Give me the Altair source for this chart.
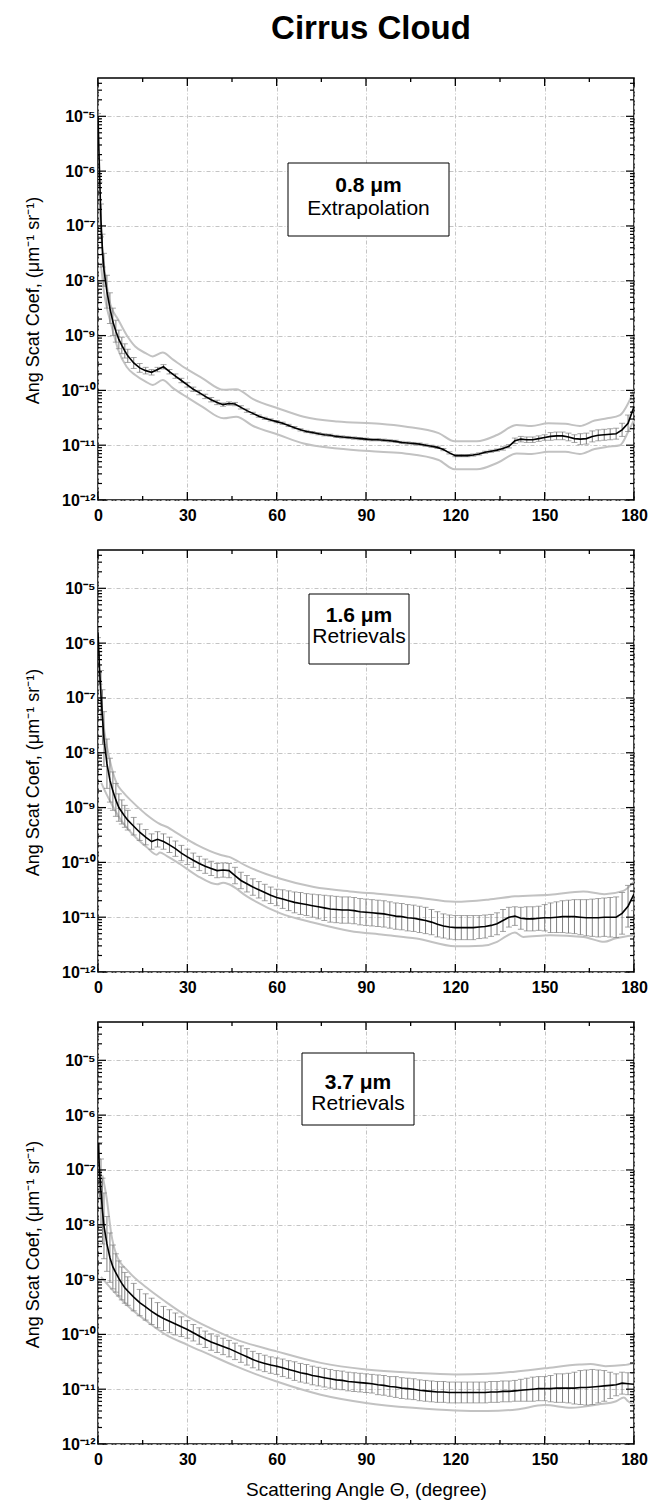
import altair as alt
import pandas as pd

# ---------------- data (log10 of angular scattering coefficient) ----------------
ANG = [0, 0.5, 1, 1.5, 2, 3, 4, 5, 6, 7, 8, 9, 10,
       12, 14, 16, 18, 20, 22, 24, 26, 28, 30,
       32, 34, 36, 38, 40, 42, 44, 46, 48, 50,
       52, 54, 56, 58, 60, 62, 64, 66, 68, 70,
       72, 74, 76, 78, 80, 82, 84, 86, 88, 90,
       92, 94, 96, 98, 100, 102, 104, 106, 108, 110,
       112, 114, 116, 118, 120, 122, 124, 126, 128, 130,
       132, 134, 136, 138, 140, 142, 144, 146, 148, 150,
       152, 154, 156, 158, 160, 162, 164, 166, 168, 170,
       172, 174, 176, 178, 180]

# Panel 1 : 0.8 um extrapolation
C1 = [-5.0, -6.0, -6.9, -7.45, -7.8, -8.2, -8.5, -8.75, -8.92, -9.07, -9.18, -9.28, -9.37,
      -9.5, -9.59, -9.64, -9.67, -9.62, -9.57, -9.66, -9.74, -9.82, -9.9,
      -9.98, -10.04, -10.11, -10.17, -10.22, -10.26, -10.24, -10.25, -10.31, -10.37,
      -10.42, -10.47, -10.51, -10.54, -10.57, -10.6, -10.64, -10.68, -10.72, -10.75,
      -10.77, -10.79, -10.81, -10.82, -10.84, -10.85, -10.86, -10.87, -10.88, -10.89,
      -10.9, -10.9, -10.91, -10.92, -10.93, -10.95, -10.96, -10.97, -10.98, -11.0,
      -11.02, -11.04, -11.08, -11.14, -11.19, -11.19, -11.19, -11.18, -11.16, -11.13,
      -11.11, -11.09, -11.06, -11.02, -10.92, -10.89, -10.9, -10.9, -10.88, -10.86,
      -10.84, -10.83, -10.83, -10.85, -10.88, -10.89, -10.88, -10.84, -10.82, -10.81,
      -10.8, -10.79, -10.72, -10.6, -10.3]
H1 = [0.05, 0.2, 0.3, 0.3, 0.3, 0.3, 0.28, 0.25, 0.2, 0.17, 0.15, 0.13, 0.12,
      0.1, 0.08, 0.06, 0.05, 0.04, 0.04, 0.04, 0.04, 0.04, 0.04,
      0.04, 0.04, 0.04, 0.04, 0.04, 0.03, 0.03, 0.03, 0.03, 0.03,
      0.02, 0.02, 0.02, 0.02, 0.02, 0.02, 0.02, 0.02, 0.02, 0.02,
      0.02, 0.02, 0.02, 0.02, 0.02, 0.02, 0.02, 0.02, 0.02, 0.02,
      0.02, 0.02, 0.02, 0.02, 0.02, 0.02, 0.02, 0.02, 0.02, 0.02,
      0.02, 0.02, 0.02, 0.02, 0.02, 0.02, 0.02, 0.02, 0.02, 0.02,
      0.02, 0.02, 0.03, 0.03, 0.05, 0.05, 0.05, 0.05, 0.05, 0.05,
      0.07, 0.07, 0.07, 0.07, 0.07, 0.1, 0.1, 0.1, 0.1, 0.1,
      0.1, 0.1, 0.12, 0.15, 0.1]
UP1_A = [0.5, 1, 2, 3, 4.2, 6.8, 9.6, 12.5, 16, 18.4, 21.7, 25.2, 29.5, 35.1, 42.2, 46.4,
         52.1, 60.6, 69.1, 80.4, 94.6, 103, 114.4, 119.8, 127.2, 134.2, 140.6, 145.6,
         151.2, 156.9, 161.8, 166.8, 171, 175.3, 178.1, 180]
UP1_V = [-6.6, -7.1, -7.7, -8.1, -8.44, -8.71, -8.99, -9.2, -9.32, -9.38, -9.31, -9.44,
         -9.6, -9.78, -9.99, -9.98, -10.16, -10.33, -10.48, -10.57, -10.61, -10.66,
         -10.78, -10.93, -10.93, -10.81, -10.63, -10.65, -10.6, -10.61, -10.65, -10.55,
         -10.51, -10.45, -10.23, -9.99]
LO1_A = [1, 2, 3, 4.2, 6.8, 9.6, 12.5, 16, 18.4, 21.7, 25.2, 29.5, 35.1, 42.2, 46.4,
         52.1, 60.6, 69.1, 80.4, 94.6, 103, 114.4, 119.8, 127.2, 134.2, 140.6, 145.6,
         151.2, 156.9, 161.8, 166.8, 171, 175.3, 178.1, 180]
LO1_V = [-7.7, -8.2, -8.5, -8.75, -9.26, -9.57, -9.72, -9.84, -9.9, -9.81, -9.96, -10.11,
         -10.3, -10.51, -10.48, -10.65, -10.81, -10.97, -11.06, -11.12, -11.15, -11.27,
         -11.44, -11.44, -11.32, -11.15, -11.16, -11.12, -11.12, -11.16, -11.07, -11.03,
         -11.0, -10.75, -10.54]

# Panel 2 : 1.6 um retrievals
C2 = [-5.8, -6.45, -6.95, -7.35, -7.75, -8.2, -8.5, -8.7, -8.86, -9.0, -9.08, -9.16, -9.23,
      -9.34, -9.45, -9.54, -9.62, -9.58, -9.62, -9.68, -9.75, -9.83, -9.9,
      -9.96, -10.02, -10.07, -10.11, -10.15, -10.14, -10.15, -10.24, -10.33, -10.39,
      -10.45, -10.5, -10.55, -10.6, -10.64, -10.67, -10.7, -10.73, -10.75, -10.77,
      -10.79, -10.81, -10.83, -10.85, -10.86, -10.87, -10.87, -10.88, -10.9, -10.91,
      -10.92, -10.93, -10.94, -10.96, -10.98, -10.99, -11.01, -11.02, -11.04, -11.06,
      -11.09, -11.13, -11.16, -11.18, -11.19, -11.19, -11.19, -11.19, -11.18, -11.17,
      -11.15, -11.12, -11.06, -11.0, -10.98, -11.02, -11.03, -11.03, -11.02, -11.01,
      -11.01, -11.0, -10.99, -10.99, -10.99, -11.0, -11.01, -11.01, -11.01, -11.0,
      -11.0, -11.0, -10.93, -10.8, -10.58]
H2 = [0.1, 0.3, 0.45, 0.5, 0.5, 0.45, 0.4, 0.35, 0.3, 0.25, 0.22, 0.2, 0.18,
      0.16, 0.15, 0.14, 0.14, 0.14, 0.14, 0.14, 0.14, 0.14, 0.14,
      0.13, 0.13, 0.13, 0.13, 0.13, 0.13, 0.13, 0.15, 0.15, 0.15,
      0.15, 0.15, 0.15, 0.15, 0.15, 0.17, 0.18, 0.19, 0.2, 0.2,
      0.21, 0.22, 0.23, 0.24, 0.24, 0.24, 0.24, 0.24, 0.24, 0.24,
      0.24, 0.24, 0.24, 0.24, 0.24, 0.24, 0.24, 0.24, 0.24, 0.24,
      0.23, 0.23, 0.22, 0.22, 0.22, 0.22, 0.22, 0.22, 0.21, 0.21,
      0.2, 0.2, 0.2, 0.18, 0.17, 0.2, 0.22, 0.22, 0.22, 0.24,
      0.27, 0.28, 0.29, 0.3, 0.31, 0.32, 0.33, 0.34, 0.35, 0.35,
      0.36, 0.37, 0.38, 0.38, 0.3]
UP2_A = [1.1, 2.2, 3.9, 6.2, 8.4, 11.8, 16.3, 20.8, 23, 27.5, 33.2, 41, 44, 50, 61.3,
         72.5, 84.6, 95.8, 107, 120, 131, 140, 151.8, 163, 170, 176.4, 180]
UP2_V = [-7.08, -7.63, -8.12, -8.55, -8.72, -8.91, -9.13, -9.3, -9.35, -9.5, -9.68,
         -9.86, -9.9, -10.07, -10.3, -10.45, -10.53, -10.58, -10.64, -10.72, -10.68,
         -10.62, -10.59, -10.53, -10.58, -10.52, -10.35]
LO2_A = [1.1, 2.8, 5, 8, 11, 16.3, 19.7, 20.8, 23, 27.5, 33.2, 40, 42, 44, 50, 61.3,
         72.5, 84.6, 95.8, 107, 120, 129, 134, 137, 140, 142.8, 151.8, 163, 170, 173.6, 180]
LO2_V = [-8.55, -8.75, -8.98, -9.25, -9.45, -9.72, -9.86, -9.82, -9.88, -10.03, -10.24,
         -10.4, -10.37, -10.4, -10.62, -10.93, -11.1, -11.25, -11.32, -11.39, -11.53,
         -11.52, -11.45, -11.35, -11.28, -11.36, -11.33, -11.36, -11.45, -11.39, -11.33]

# Panel 3 : 3.7 um retrievals
C3 = [-6.5, -7.0, -7.4, -7.75, -8.02, -8.35, -8.6, -8.77, -8.88, -8.98, -9.07, -9.15, -9.21,
      -9.32, -9.42, -9.5, -9.58, -9.65, -9.71, -9.76, -9.81, -9.86, -9.91,
      -9.97, -10.03, -10.09, -10.14, -10.18, -10.22, -10.26, -10.31, -10.36, -10.41,
      -10.46, -10.5, -10.53, -10.56, -10.58, -10.61, -10.64, -10.67, -10.7, -10.72,
      -10.75, -10.77, -10.79, -10.81, -10.83, -10.84, -10.86, -10.87, -10.88, -10.89,
      -10.9, -10.92, -10.93, -10.95, -10.96, -10.98, -10.99, -11.0, -11.02, -11.03,
      -11.04, -11.05, -11.05, -11.06, -11.06, -11.06, -11.06, -11.06, -11.06, -11.06,
      -11.05, -11.05, -11.04, -11.04, -11.03, -11.02, -11.01, -11.0, -10.99, -10.99,
      -10.99, -10.98, -10.98, -10.98, -10.98, -10.97, -10.97, -10.96, -10.95, -10.94,
      -10.93, -10.92, -10.89, -10.9, -10.91]
H3 = [0.3, 0.5, 0.6, 0.6, 0.6, 0.5, 0.45, 0.4, 0.35, 0.32, 0.3, 0.28, 0.26,
      0.25, 0.24, 0.24, 0.24, 0.23, 0.22, 0.21, 0.2, 0.18, 0.16,
      0.15, 0.15, 0.15, 0.15, 0.15, 0.15, 0.15, 0.15, 0.15, 0.15,
      0.15, 0.15, 0.15, 0.15, 0.15, 0.16, 0.16, 0.17, 0.17, 0.17,
      0.17, 0.17, 0.17, 0.17, 0.17, 0.17, 0.17, 0.17, 0.17, 0.17,
      0.17, 0.18, 0.18, 0.18, 0.19, 0.19, 0.19, 0.19, 0.19, 0.19,
      0.19, 0.19, 0.19, 0.19, 0.19, 0.19, 0.19, 0.19, 0.19, 0.19,
      0.19, 0.19, 0.19, 0.19, 0.19, 0.2, 0.21, 0.22, 0.22, 0.22,
      0.24, 0.26, 0.26, 0.27, 0.29, 0.31, 0.32, 0.32, 0.3, 0.28,
      0.24, 0.2, 0.2, 0.2, 0.2]
UP3_A = [1.5, 2.9, 4.5, 6.2, 10.2, 16.4, 22.6, 30, 37.5, 46.2, 60, 74.8, 90, 105.8, 120,
         130.7, 140, 150, 161.7, 165.4, 170.4, 176.6, 180]
UP3_V = [-7.1, -7.51, -8.18, -8.55, -8.85, -9.15, -9.4, -9.67, -9.88, -10.09, -10.31,
         -10.52, -10.64, -10.7, -10.73, -10.72, -10.68, -10.62, -10.55, -10.54, -10.58,
         -10.56, -10.52]
LO3_A = [1, 5.2, 10.2, 16.4, 22.6, 30, 37.5, 46.2, 60, 74.8, 90, 105.8, 120, 130.7, 140.6,
         150, 159, 168, 174, 176.6, 178, 180]
LO3_V = [-8.95, -9.21, -9.49, -9.76, -10.0, -10.19, -10.37, -10.58, -10.86, -11.1, -11.25,
         -11.34, -11.39, -11.4, -11.37, -11.29, -11.34, -11.28, -11.22, -11.15, -11.22, -11.28]

# axis tick positions
X_MAJOR = [0, 30, 60, 90, 120, 150, 180]
X_MINOR = [15, 45, 75, 105, 135, 165]
Y_DECADES = [1e-12, 1e-11, 1e-10, 1e-9, 1e-8, 1e-7, 1e-6, 1e-5]
Y_MANT = [2, 3, 4, 5, 6, 7, 8, 9]
Y_MINOR = [m * d for d in Y_DECADES[:-1] for m in Y_MANT] + [2e-5, 3e-5, 4e-5]

# ---------------- styling ----------------
W, H = 536, 422
FONT = "Liberation Sans"
XS = alt.Scale(domain=[0, 180], nice=False, zero=False)
YS = alt.Scale(type="log", domain=[1e-12, 5e-5], nice=False)
GRID = "#c4c4c4"
SUP = ["\u2070", "\u207b\u00b9", "\u207b\u00b2", "\u207b\u00b3", "\u207b\u2074",
       "\u207b\u2075", "\u207b\u2076", "\u207b\u2077", "\u207b\u2078", "\u207b\u2079",
       "\u207b\u00b9\u2070", "\u207b\u00b9\u00b9", "\u207b\u00b9\u00b2"]
LABEL_EXPR = "'10' + [" + ",".join("'%s'" % s for s in SUP) + "][round(-log(datum.value)/LN10)]"
YTITLE = "Ang Scat Coef, (\u03bcm\u207b\u00b9 sr\u207b\u00b9)"
XTITLE = "Scattering Angle \u0398, (degree)"


def to_val(v):
    return [10.0 ** x for x in v]


def panel(C, Hh, UA, UV, LA, LV, line1, line2, box, xtitle, title=None):
    df = pd.DataFrame({"angle": ANG, "val": to_val(C),
                       "lo": [10.0 ** (c - h) for c, h in zip(C, Hh)],
                       "hi": [10.0 ** (c + h) for c, h in zip(C, Hh)]})
    env = pd.concat([pd.DataFrame({"angle": UA, "val": to_val(UV), "s": "up"}),
                     pd.DataFrame({"angle": LA, "val": to_val(LV), "s": "lo"})])

    xax_kw = dict(values=X_MAJOR, grid=True, gridColor=GRID, gridDash=[4, 2, 1, 2],
                  gridWidth=1, tickSize=0, domain=False, labelFont=FONT, labelFontSize=16,
                  labelFontWeight="bold", labelColor="black", labelPadding=7,
                  labelFlush=False, titleFont=FONT, titleFontSize=19,
                  titleFontWeight="normal", titleColor="black", titlePadding=13)
    if xtitle:
        xax = alt.Axis(title=xtitle, **xax_kw)
    else:
        xax = alt.Axis(title=None, **xax_kw)
    yax = alt.Axis(values=Y_DECADES, grid=True, gridColor=GRID, gridDash=[4, 2, 1, 2],
                   gridWidth=1, tickSize=0, domain=False, labelFont=FONT, labelFontSize=16,
                   labelFontWeight="bold", labelColor="black", labelPadding=3,
                   labelExpr=LABEL_EXPR, title=YTITLE, titleFont=FONT, titleFontSize=18,
                   titleFontWeight="normal", titleColor="black", titleX=-56, titleY=222)

    def X(f):
        return alt.X(f, scale=XS, axis=xax)

    def Y(f):
        return alt.Y(f, scale=YS, axis=yax)

    envl = alt.Chart(env).mark_line(color="#c2c2c2", strokeWidth=2, interpolate="monotone",
                                    clip=True).encode(
        x=X("angle:Q"), y=Y("val:Q"), detail="s:N")
    bars = alt.Chart(df).mark_rule(color="#808080", strokeWidth=1, clip=True).encode(
        x=X("angle:Q"), y=Y("lo:Q"), y2="hi:Q")
    cap_lo = alt.Chart(df).mark_tick(orient="horizontal", color="#808080", size=6,
                                     thickness=1, clip=True).encode(
        x=X("angle:Q"), y=Y("lo:Q"))
    cap_hi = alt.Chart(df).mark_tick(orient="horizontal", color="#808080", size=6,
                                     thickness=1, clip=True).encode(
        x=X("angle:Q"), y=Y("hi:Q"))
    line = alt.Chart(df).mark_line(color="black", strokeWidth=1.6, clip=True).encode(
        x=X("angle:Q"), y=Y("val:Q"))

    xmaj = pd.DataFrame({"t": X_MAJOR})
    xmin = pd.DataFrame({"t": X_MINOR})
    ymaj = pd.DataFrame({"t": Y_DECADES})
    ymin = pd.DataFrame({"t": Y_MINOR})
    tick_layers = []
    for d, L in ((xmaj, 8), (xmin, 4)):
        tick_layers.append(alt.Chart(d).mark_rule(color="black", strokeWidth=1.3).encode(
            x=X("t:Q"), y=alt.value(H), y2=alt.value(H - L)))
        tick_layers.append(alt.Chart(d).mark_rule(color="black", strokeWidth=1.3).encode(
            x=X("t:Q"), y=alt.value(0), y2=alt.value(L)))
    for d, L in ((ymaj, 8), (ymin, 4)):
        tick_layers.append(alt.Chart(d).mark_rule(color="black", strokeWidth=1.2).encode(
            y=Y("t:Q"), x=alt.value(0), x2=alt.value(L)))
        tick_layers.append(alt.Chart(d).mark_rule(color="black", strokeWidth=1.2).encode(
            y=Y("t:Q"), x=alt.value(W), x2=alt.value(W - L)))

    bx1, bx2, by1, by2, b1, b2 = box
    one = pd.DataFrame({"k": [0]})
    rect = alt.Chart(one).mark_rect(fill="white", stroke="black", strokeWidth=1).encode(
        x=alt.value(bx1), x2=alt.value(bx2), y=alt.value(by1), y2=alt.value(by2))
    cx = (bx1 + bx2) / 2
    t1 = alt.Chart(one).mark_text(text=line1, font=FONT, fontSize=21, fontWeight="bold",
                                  align="center", baseline="alphabetic", color="black").encode(
        x=alt.value(cx), y=alt.value(b1))
    t2 = alt.Chart(one).mark_text(text=line2, font=FONT, fontSize=21, fontWeight="normal",
                                  align="center", baseline="alphabetic", color="black").encode(
        x=alt.value(cx), y=alt.value(b2))

    ch = alt.layer(envl, bars, cap_lo, cap_hi, line, *tick_layers, rect, t1, t2)
    if title is not None:
        return ch.properties(width=W, height=H, title=title)
    return ch.properties(width=W, height=H)


title = alt.TitleParams("Cirrus Cloud", font=FONT, fontSize=33, fontWeight="bold",
                        color="black", anchor="middle", frame="group", offset=31, dx=5)

p1 = panel(C1, H1, UP1_A, UP1_V, LO1_A, LO1_V, "0.8 \u03bcm", "Extrapolation",
           (190, 351, 85, 158, 114, 137), None, title)
p2 = panel(C2, H2, UP2_A, UP2_V, LO2_A, LO2_V, "1.6 \u03bcm", "Retrievals",
           (211, 311, 44, 114, 72, 93), None)
p3 = panel(C3, H3, UP3_A, UP3_V, LO3_A, LO3_V, "3.7 \u03bcm", "Retrievals",
           (204, 316, 31, 103, 67, 88), XTITLE)

chart = alt.vconcat(p1, p2, p3, spacing=50, bounds="flush").properties(
    padding={"left": 15, "top": 4, "right": 0, "bottom": 0},
    background="white",
).configure_view(stroke="black", strokeWidth=1.5)

chart.save("out.html", embed_options={"renderer": "svg", "actions": False})
